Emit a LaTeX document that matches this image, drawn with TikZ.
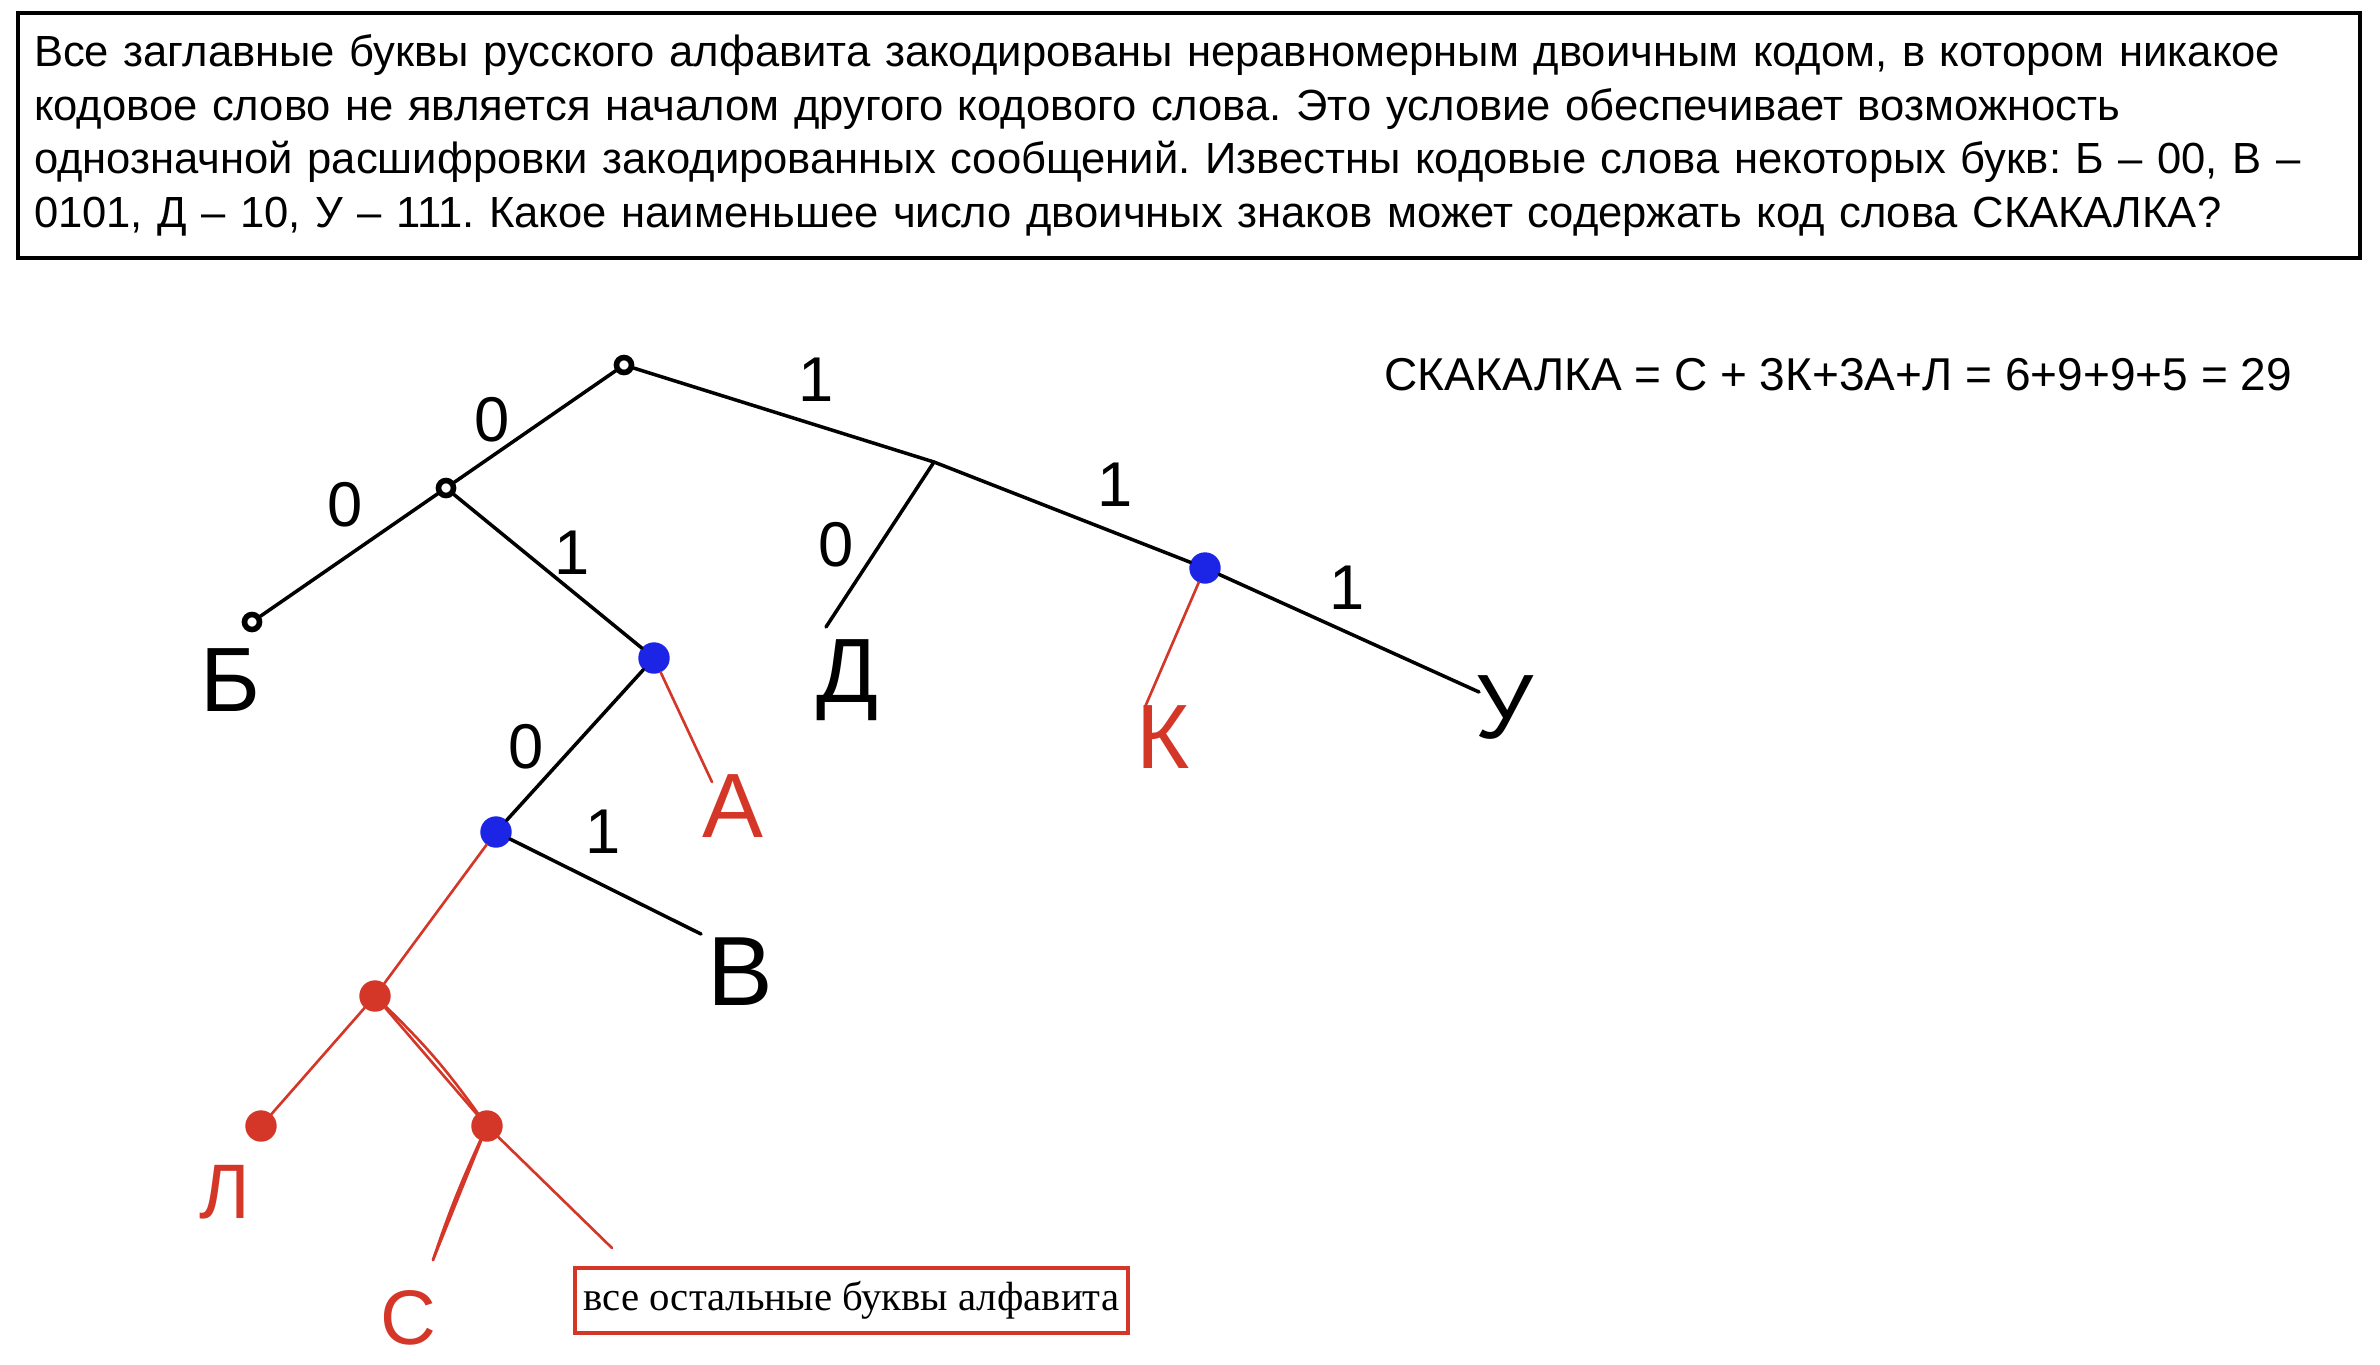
\documentclass[tikz,border=0pt]{standalone}
\usepackage{fontspec}
\setmainfont{Liberation Sans}
\newfontfamily\boxserif{Liberation Serif}
\usetikzlibrary{positioning}
\definecolor{penblue}{RGB}{28,36,230}
\definecolor{penred}{RGB}{212,54,40}
\frenchspacing

\begin{document}
\begin{tikzpicture}[x=1cm, y=-1cm,
    task/.style={rectangle, draw, line width=1.2pt, minimum width=23.42cm, minimum height=2.45cm,
                 text width=23.1cm, align=left, inner sep=0pt, font=\fontsize{12.4}{15.2}\selectfont},
    formula/.style={anchor=west, inner sep=0pt, font=\fontsize{13.1}{15}\selectfont},
    note/.style={rectangle, draw=penred, line width=1pt, minimum width=5.53cm, minimum height=0.65cm,
                 inner sep=0pt, font=\boxserif\fontsize{11.6}{14}\selectfont},
    dot/.style={circle, draw, line width=1.6pt, inner sep=0pt, minimum size=0.15cm},
    bdot/.style={circle, fill=penblue, draw=penblue, inner sep=0pt, minimum size=0.3cm},
    rdot/.style={circle, fill=penred, draw=penred, inner sep=0pt, minimum size=0.3cm},
    edge0/.style={line width=1pt, line cap=round},
    edgered/.style={penred, line width=0.75pt, line cap=round},
    hand/.style={inner sep=0pt, font=\fontsize{26}{26}\selectfont},
    bit/.style={inner sep=0pt, font=\fontsize{18}{18}\selectfont}
]
    \useasboundingbox (0,0) rectangle (23.8,13.64);

    % Task statement
    \node[task] (task) at (11.89,1.355) {%
        Все заглавные буквы русского алфавита закодированы неравномерным двоичным кодом, в котором никакое\\
        кодовое слово не является началом другого кодового слова. Это условие обеспечивает возможность\\
        однозначной расшифровки закодированных сообщений. Известны кодовые слова некоторых букв: Б -- 00, В --\\
        0101, Д -- 10, У -- 111. Какое наименьшее число двоичных знаков может содержать код слова СКАКАЛКА?};

    % Answer
    \node[formula] (sum) at (13.84,3.75) {СКАКАЛКА = С + 3К+3А+Л = 6+9+9+5 = 29};

    % Tree nodes
    \node[dot] (root) at (6.24,3.65) {};
    \node[dot] (n0) at (4.46,4.88) {};
    \node[dot] (nB) at (2.52,6.22) {};
    \node[bdot] (n01) at (6.54,6.58) {};
    \node[bdot] (n010) at (4.96,8.32) {};
    \coordinate (fork) at (9.34,4.62);
    \node[bdot] (n11) at (12.05,5.68) {};
    \coordinate (endD) at (8.26,6.27);
    \coordinate (endU) at (14.79,6.92);
    \coordinate (endV) at (7.01,9.34);
    \coordinate (endA) at (7.12,7.82);
    \coordinate (endK) at (11.45,7.07);
    \node[rdot] (r1) at (3.75,9.96) {};
    \node[rdot] (nL) at (2.61,11.26) {};
    \node[rdot] (r2) at (4.87,11.26) {};
    \coordinate (endS) at (4.33,12.60);
    \coordinate (endRest) at (6.12,12.48);

    % Black edges
    \draw[edge0] (root) -- (n0);
    \draw[edge0] (n0) -- (nB);
    \draw[edge0] (n0) -- (n01);
    \draw[edge0] (n01) -- (n010);
    \draw[edge0] (n010) -- (endV);
    \draw[edge0] (root) -- (fork) -- (n11);
    \draw[edge0] (n11) -- (endU);
    \draw[edge0] (fork) -- (endD);

    % Red edges
    \draw[edgered] (n01) -- (endA);
    \draw[edgered] (n11) -- (endK);
    \draw[edgered] (n010) -- (r1);
    \draw[edgered] (r1) -- (nL);
    \draw[edgered] (r1) -- (r2);
    \draw[edgered] (r1) to[bend left=5] (r2);
    \draw[edgered] (r2) -- (endS);
    \draw[edgered] (r2) to[bend right=3] (endS);
    \draw[edgered] (r2) -- (endRest);

    % Letters
    \node[hand] (lB) at (2.30,6.80) {Б};
    \node[hand] (lD) at (8.47,6.80) {Д};
    \node[hand, font=\fontsize{28}{28}\selectfont] (lV) at (7.40,9.72) {В};
    \node[hand] (lU) at (15.05,7.07) {У};
    \node[hand, penred] (lA) at (7.33,8.06) {А};
    \node[hand, penred] (lK) at (11.63,7.37) {К};
    \node[hand, penred, font=\fontsize{22}{22}\selectfont] (lL) at (2.25,11.92) {Л};
    \node[hand, penred, font=\fontsize{22}{22}\selectfont] (lS) at (4.08,13.18) {С};

    % Bits
    \node[bit] (b1) at (4.92,4.20) {0};
    \node[bit] (b2) at (3.45,5.05) {0};
    \node[bit] (b3) at (5.72,5.53) {1};
    \node[bit] (b4) at (8.16,3.80) {1};
    \node[bit] (b5) at (8.36,5.45) {0};
    \node[bit] (b6) at (5.26,7.47) {0};
    \node[bit] (b7) at (6.03,8.32) {1};
    \node[bit] (b8) at (11.15,4.85) {1};
    \node[bit] (b9) at (13.47,5.88) {1};

    % Remaining letters
    \node[note] (rest) at (8.515,13.005) {все остальные буквы алфавита};
\end{tikzpicture}
\end{document}
